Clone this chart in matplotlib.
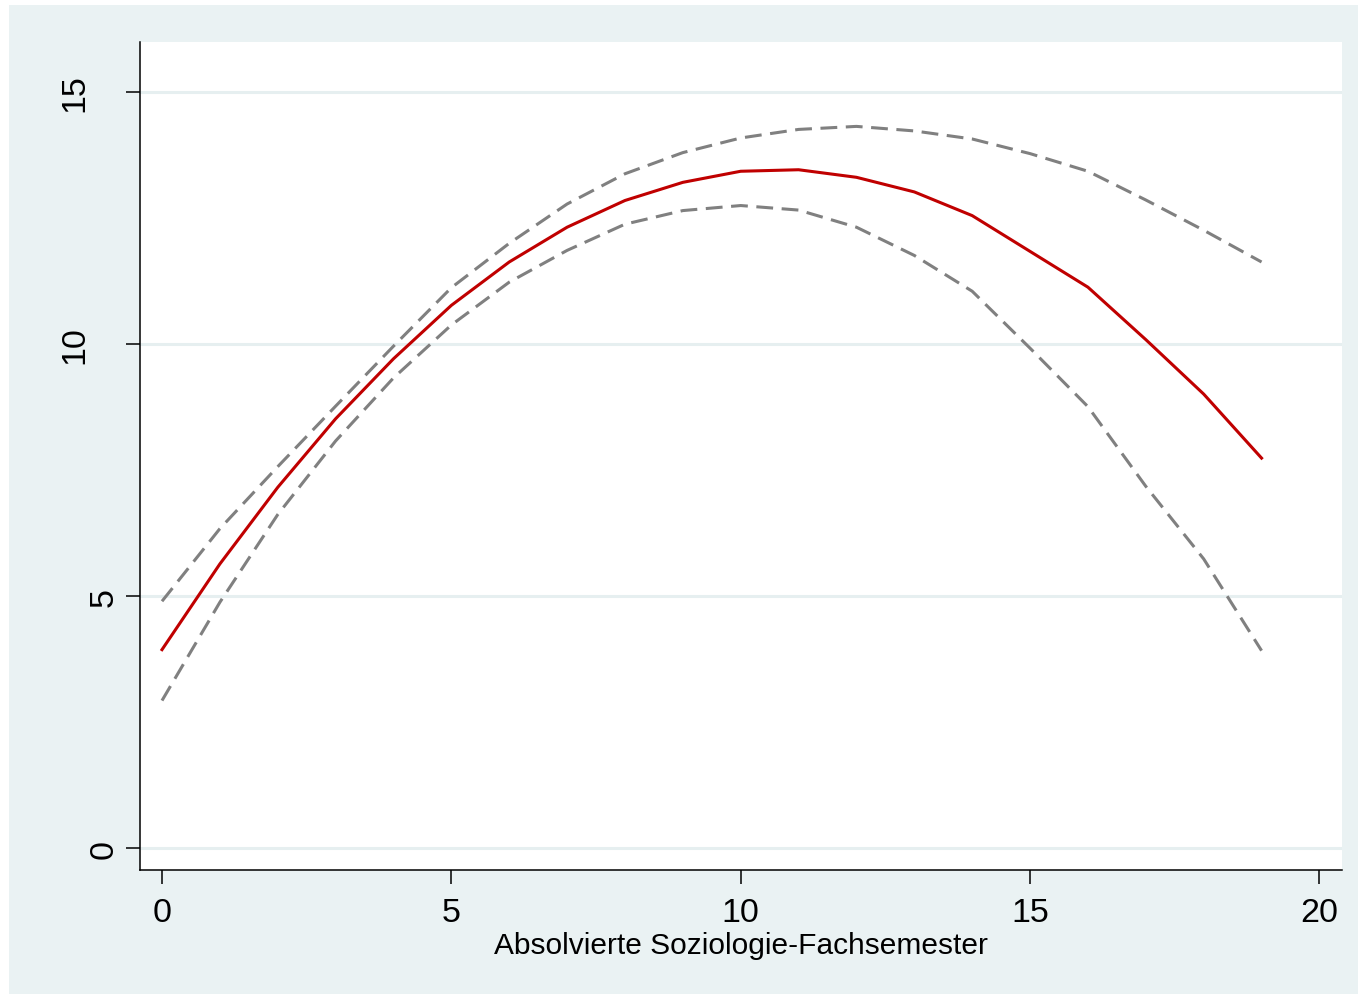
import matplotlib
matplotlib.use("Agg")
import matplotlib.pyplot as plt
from matplotlib.patches import Rectangle
from matplotlib.transforms import ScaledTranslation

plt.rcParams["font.family"] = ["Liberation Sans", "DejaVu Sans"]

# Fachsemester (x) und geschaetzte Werte mit Konfidenzband
semester = list(range(20))
fit = [3.94, 5.64, 7.16, 8.52, 9.71, 10.77, 11.63, 12.32, 12.85, 13.21,
       13.43, 13.46, 13.31, 13.02, 12.55, 11.84, 11.13, 10.09, 9.01, 7.74]
ci_oben = [4.90, 6.34, 7.57, 8.77, 9.96, 11.12, 12.00, 12.78, 13.38, 13.80,
           14.09, 14.26, 14.32, 14.23, 14.07, 13.78, 13.43, 12.86, 12.26, 11.63]
ci_unten = [2.93, 4.88, 6.62, 8.08, 9.33, 10.38, 11.23, 11.86, 12.38, 12.65,
            12.75, 12.66, 12.32, 11.76, 11.05, 9.92, 8.76, 7.18, 5.74, 3.92]

x_ticks = [0, 5, 10, 15, 20]
y_ticks = [0, 5, 10, 15]
x_titel = "Absolvierte Soziologie-Fachsemester"

W, H = 1358, 995
fig = plt.figure(figsize=(W / 100, H / 100), dpi=100, facecolor="white")
fig.patches.append(Rectangle((9 / W, 0), 1 - 9 / W, 1 - 6 / H,
                             transform=fig.transFigure, facecolor="#EAF2F3",
                             edgecolor="none", zorder=-10))

ax = fig.add_axes([140 / W, (H - 870.7) / H, (1342 - 140) / W, (870.7 - 42.7) / H])
ax.set_facecolor("white")

for y in y_ticks:
    ax.axhline(y, color="#E6EFF0", lw=2.2, zorder=0)

ax.plot(semester, ci_oben, color="#808080", lw=2.2, dashes=(5.5, 2.8), zorder=2)
ax.plot(semester, ci_unten, color="#808080", lw=2.2, dashes=(5.5, 2.8), zorder=2)
ax.plot(semester, fit, color="#C00000", lw=2.2, zorder=3)

ax.set_xlim(-0.38, 20.39)
ax.set_ylim(-0.425, 16.0)
ax.set_xticks(x_ticks)
ax.set_yticks(y_ticks)
ax.set_yticklabels([])

for s in ["top", "right"]:
    ax.spines[s].set_visible(False)
for s in ["left", "bottom"]:
    ax.spines[s].set_color("black")
    ax.spines[s].set_linewidth(1.1)

ax.tick_params(axis="both", length=10, width=1.1, color="black", labelsize=24.5)
ax.tick_params(axis="x", pad=10)

# y-Beschriftung wie bei Stata: zweistellige Zahlen weiter links
for y in y_ticks:
    lab = str(y)
    dx = -20 - 30 * (len(lab) - 1)
    tr = ax.get_yaxis_transform() + ScaledTranslation(dx / 100, 0, fig.dpi_scale_trans)
    ax.text(0, y, lab, transform=tr, rotation=90, ha="right", va="center",
            fontsize=24.5)

ax.set_xlabel(x_titel, fontsize=21.5, labelpad=2)

fig.savefig("out.png", dpi=100, facecolor=fig.get_facecolor())
